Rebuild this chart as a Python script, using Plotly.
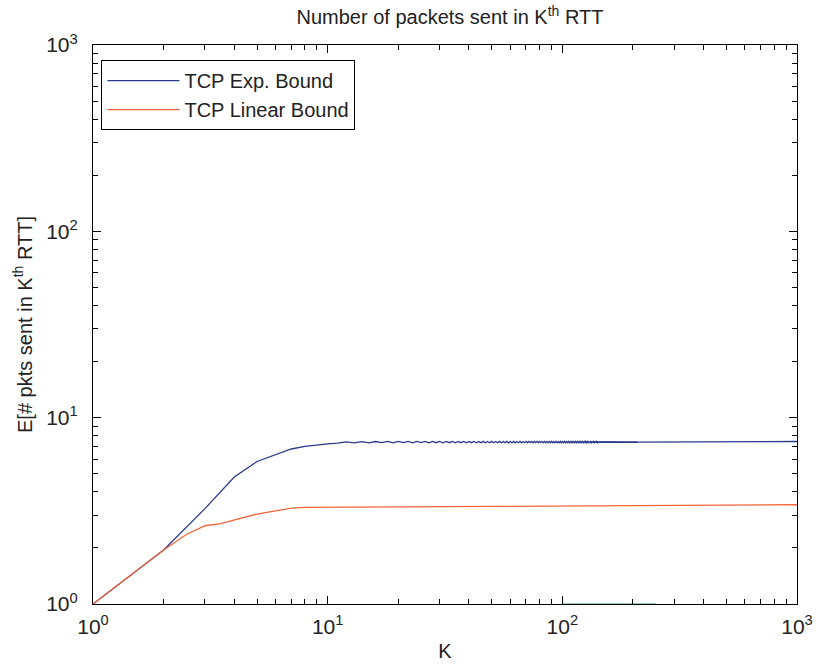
import plotly.graph_objects as go

# Expected packets per RTT (exponential bound), K = 1..10
k_exp_head = [1, 2, 3, 4, 5, 6, 7, 8, 9, 10]
exp_head = [1.00, 1.95, 3.25, 4.80, 5.82, 6.32, 6.79, 7.01, 7.16, 7.24]

# Steady-state part, K = 11..210 (even/odd oscillation)
k_exp_tail = list(range(11, 211))
exp_tail = [
    7.30, 7.42, 7.33, 7.44, 7.33, 7.45, 7.34, 7.46, 7.33, 7.45,
    7.34, 7.46, 7.33, 7.45, 7.34, 7.46, 7.33, 7.45, 7.34, 7.46,
    7.33, 7.45, 7.34, 7.46, 7.33, 7.45, 7.34, 7.46, 7.33, 7.45,
    7.34, 7.46, 7.33, 7.45, 7.34, 7.46, 7.33, 7.45, 7.34, 7.46,
    7.33, 7.45, 7.34, 7.46, 7.33, 7.45, 7.34, 7.46, 7.33, 7.45,
    7.34, 7.46, 7.33, 7.45, 7.34, 7.46, 7.33, 7.45, 7.34, 7.46,
    7.33, 7.45, 7.34, 7.46, 7.33, 7.45, 7.34, 7.46, 7.33, 7.45,
    7.34, 7.46, 7.33, 7.45, 7.34, 7.46, 7.33, 7.45, 7.34, 7.46,
    7.33, 7.45, 7.34, 7.46, 7.33, 7.45, 7.34, 7.46, 7.33, 7.45,
    7.34, 7.46, 7.33, 7.45, 7.34, 7.46, 7.33, 7.45, 7.34, 7.46,
    7.33, 7.45, 7.34, 7.46, 7.33, 7.45, 7.34, 7.46, 7.33, 7.45,
    7.34, 7.46, 7.33, 7.45, 7.34, 7.46, 7.33, 7.45, 7.34, 7.46,
    7.33, 7.45, 7.34, 7.46, 7.33, 7.45, 7.34, 7.46, 7.33, 7.45,
    7.34, 7.46, 7.33, 7.45, 7.34, 7.46, 7.33, 7.45, 7.34, 7.46,
    7.33, 7.45, 7.34, 7.46, 7.33, 7.45, 7.34, 7.46, 7.33, 7.45,
    7.34, 7.46, 7.33, 7.45, 7.34, 7.46, 7.33, 7.45, 7.34, 7.46,
    7.33, 7.45, 7.34, 7.46, 7.33, 7.45, 7.34, 7.46, 7.33, 7.45,
    7.34, 7.46, 7.33, 7.45, 7.34, 7.46, 7.33, 7.45, 7.34, 7.46,
    7.33, 7.45, 7.34, 7.46, 7.33, 7.45, 7.34, 7.46, 7.33, 7.45,
    7.34, 7.46, 7.33, 7.45, 7.34, 7.46, 7.33, 7.45, 7.34, 7.40,
]
k_exp_end = [1000]
exp_end = [7.45]

# Linear bound
k_lin = [1, 2, 2.5, 3, 3.5, 4, 5, 6, 7, 8, 10, 20, 50, 100, 200, 500, 1000]
lin_vals = [1.00, 1.95, 2.36, 2.63, 2.70, 2.83, 3.04, 3.16, 3.27, 3.30,
            3.31, 3.32, 3.34, 3.36, 3.38, 3.40, 3.41]

# Flat reference series lying on the x axis
k_flat = [100, 250]
flat_vals = [1.0, 1.0]

decade_vals = [1, 10, 100, 1000]
decade_text = ["10<sup>0</sup>", "10<sup>1</sup>", "10<sup>2</sup>", "10<sup>3</sup>"]
minor_vals = [m * d for d in (1, 10, 100) for m in range(2, 10)]

FONT = "Liberation Sans Narrow, Liberation Sans, Arial, sans-serif"
BLUE = "#2a3a8c"
ORANGE = "#f2663a"
INK = "#222"

fig = go.Figure()
fig.add_trace(go.Scatter(
    x=k_exp_head + k_exp_tail + k_exp_end,
    y=exp_head + exp_tail + exp_end,
    mode="lines", name="TCP Exp. Bound",
    line=dict(color=BLUE, width=1.3),
))
fig.add_trace(go.Scatter(
    x=k_lin, y=lin_vals, mode="lines", name="TCP Linear Bound",
    line=dict(color=ORANGE, width=1.3),
))
fig.add_trace(go.Scatter(
    x=k_flat, y=flat_vals, mode="lines", showlegend=False,
    line=dict(color="#6fb8a8", width=1.5),
))

axis_common = dict(
    type="log", range=[0, 3],
    showgrid=False, zeroline=False,
    showline=True, linecolor="black", linewidth=1.2, mirror="ticks",
    ticks="inside", ticklen=8, tickwidth=1.2, tickcolor="black",
    tickvals=decade_vals, ticktext=decade_text,
    tickfont=dict(family=FONT, size=21, color=INK),
    minor=dict(ticks="inside", ticklen=5, tickwidth=1.2, tickcolor="black",
               tickvals=minor_vals, showgrid=False),
)

fig.update_xaxes(**axis_common, ticklabelstandoff=4,
                 title=dict(text="K", font=dict(family=FONT, size=20, color=INK),
                            standoff=6))
fig.update_yaxes(**axis_common, ticklabelstandoff=10,
                 title=dict(text="E[# pkts sent in K<sup>th</sup> RTT]",
                            font=dict(family=FONT, size=20, color=INK),
                            standoff=8))

fig.update_layout(
    width=825, height=670,
    margin=dict(l=93, r=18, t=45, b=66),
    paper_bgcolor="white", plot_bgcolor="white",
    title=dict(text="Number of packets sent in K<sup>th</sup> RTT",
               x=0.5454, xanchor="center", y=0.985, yanchor="top",
               font=dict(family=FONT, size=20, color=INK)),
    legend=dict(x=0.012, y=0.973, xanchor="left", yanchor="top",
                bgcolor="white", bordercolor="black", borderwidth=1,
                font=dict(family=FONT, size=20, color=INK),
                itemwidth=72),
    showlegend=True,
)

fig.write_html("out.html")
